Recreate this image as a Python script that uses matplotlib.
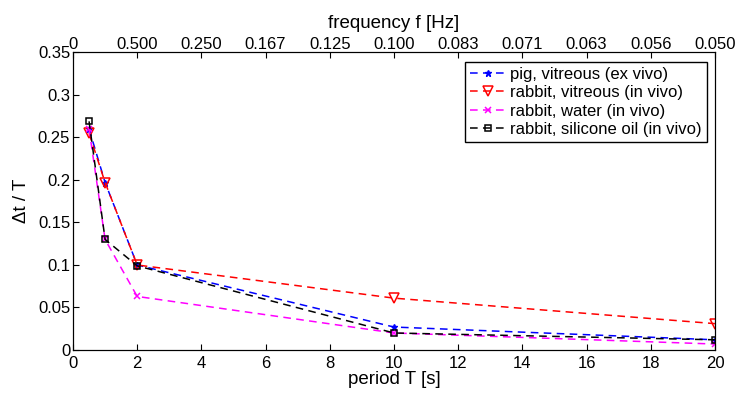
import matplotlib
matplotlib.use("Agg")
import matplotlib.pyplot as plt

plt.rcParams['font.family'] = ['Liberation Sans', 'DejaVu Sans']
plt.rcParams['font.size'] = 12

T = [0.5, 1, 2, 10, 20]
pig_vitreous = [0.260, 0.197, 0.100, 0.027, 0.012]
rabbit_vitreous = [0.255, 0.197, 0.100, 0.061, 0.031]
rabbit_water = [0.260, 0.130, 0.063, 0.020, 0.007]
rabbit_silicone = [0.269, 0.130, 0.099, 0.020, 0.012]

xticks = [0, 2, 4, 6, 8, 10, 12, 14, 16, 18, 20]
yticks = [0, 0.05, 0.1, 0.15, 0.2, 0.25, 0.3, 0.35]
ytick_labels = ['0', '0.05', '0.1', '0.15', '0.2', '0.25', '0.3', '0.35']
top_labels = ['0', '0.500', '0.250', '0.167', '0.125', '0.100', '0.083',
              '0.071', '0.063', '0.056', '0.050']

fig = plt.figure(figsize=(7.36, 3.94), dpi=100)
ax = fig.add_axes([0.0992, 0.1117, 0.8722, 0.7551])

ls = (0, (5, 3.5))
ax.plot(T, pig_vitreous, linestyle=ls, color='#0000ff', marker='*', markersize=5,
        lw=1.1, label='pig, vitreous (ex vivo)')
ax.plot(T, rabbit_vitreous, linestyle=ls, color='#ff0000', marker='v', markersize=7,
        markerfacecolor='none', mew=1.1, lw=1.1, label='rabbit, vitreous (in vivo)')
ax.plot(T, rabbit_water, linestyle=ls, color='#ff00ff', marker='x', markersize=4,
        mew=1.1, lw=1.1, label='rabbit, water (in vivo)')
ax.plot(T, rabbit_silicone, linestyle=ls, color='#000000', marker='s', markersize=5,
        markerfacecolor='none', mew=1.1, lw=1.1, label='rabbit, silicone oil (in vivo)')

ax.set_xlim(0, 20)
ax.set_ylim(0, 0.35)
ax.set_xticks(xticks)
ax.set_yticks(yticks)
ax.set_yticklabels(ytick_labels)
ax.tick_params(direction='in', length=4, width=0.8, top=False, right=False)
ax.tick_params(axis='x', pad=4)
ax.tick_params(axis='y', pad=2)
ax.set_xlabel('period T [s]', fontsize=13.5, labelpad=0)
ax.set_ylabel('\u0394t / T', fontsize=13.5, labelpad=6)

ax2 = ax.twiny()
ax2.set_xlim(0, 20)
ax2.set_xticks(xticks)
ax2.set_xticklabels(top_labels)
ax2.tick_params(direction='in', length=4, width=0.8, pad=0.5)
ax2.set_xlabel('frequency f [Hz]', fontsize=13.5, labelpad=6)

for a in (ax, ax2):
    for s in a.spines.values():
        s.set_linewidth(0.8)

leg = ax.legend(loc='upper right', bbox_to_anchor=(0.995, 0.985), frameon=True,
                fancybox=False, edgecolor='black', framealpha=1,
                handlelength=2.2, borderpad=0.3, labelspacing=0.2,
                handletextpad=0.2, borderaxespad=0.3)
leg.get_frame().set_linewidth(1.0)

fig.savefig('out.png', dpi=100)
